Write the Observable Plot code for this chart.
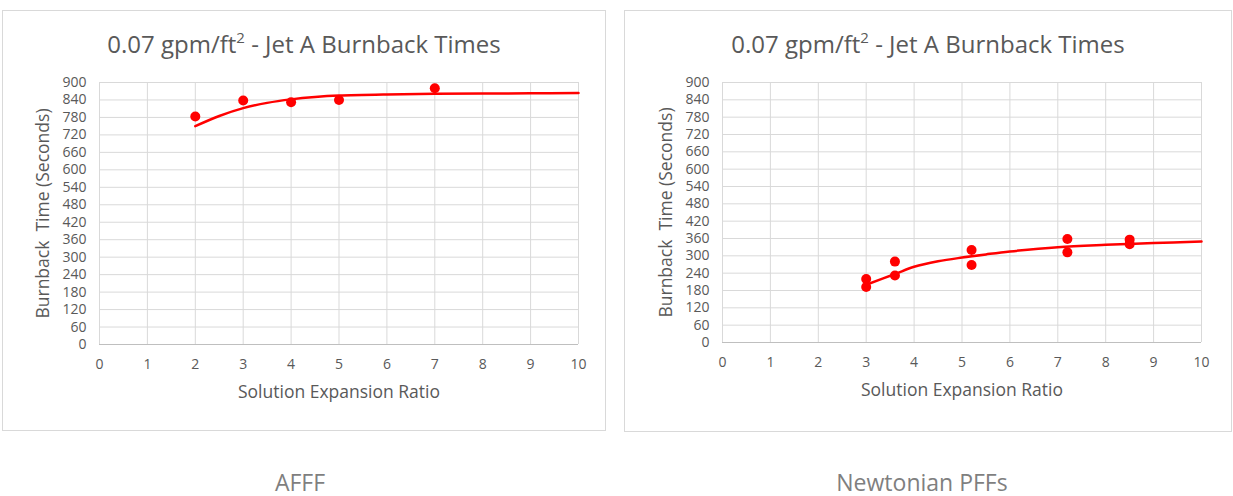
<!DOCTYPE html>
<html><head><meta charset="utf-8">
<script src="https://cdn.jsdelivr.net/npm/d3@7"></script>
<script src="https://cdn.jsdelivr.net/npm/@observablehq/plot@0.6"></script>
<style>
body{margin:0;background:#fff;width:1233px;height:496px;position:relative;overflow:hidden;font-family:"Open Sans",sans-serif;}
.panel{position:absolute;border:1px solid #d9d9d9;box-sizing:border-box;background:#fff;}
.title{position:absolute;left:0;right:0;top:16px;text-align:center;font-size:24px;color:#595959;white-space:nowrap;}
.title sup{font-size:15px;vertical-align:10px;line-height:0;}
.panel svg{position:absolute;left:0;top:0;}
.cap{position:absolute;top:466px;font-size:23px;color:#7f7f7f;transform:translateX(-50%);white-space:nowrap;}
</style></head>
<body>
<div id="p1" class="panel" style="left:2px;top:10px;width:604px;height:421px"><div class="title">0.07 gpm/ft<sup>2</sup> - Jet A Burnback Times</div></div>
<div id="p2" class="panel" style="left:624px;top:10px;width:608px;height:422px"><div class="title">0.07 gpm/ft<sup>2</sup> - Jet A Burnback Times</div></div>
<div class="cap" style="left:300px">AFFF</div>
<div class="cap" style="left:922px">Newtonian PFFs</div>
<script>
// AFFF data
const afffRatio = [2, 3, 4, 5, 7];
const afffTime = [783, 838, 832, 840, 880];
const afffTrendRatio = [2, 2.5, 3, 3.5, 4, 4.5, 5, 6, 7, 8, 9, 10];
const afffTrendTime = [750, 785, 812, 830, 842, 850, 855, 859, 861, 862, 863, 864];
// Newtonian PFF data
const pffRatio = [3, 3, 3.6, 3.6, 5.2, 5.2, 7.2, 7.2, 8.5, 8.5];
const pffTime = [220, 192, 280, 232, 320, 268, 358, 312, 356, 340];
const pffTrendRatio = [3, 3.6, 4, 4.5, 5, 5.5, 6, 7, 8, 9, 10];
const pffTrendTime = [200, 237, 262, 281, 294, 305, 315, 330, 338, 344, 350];
const xTicks = [0,1,2,3,4,5,6,7,8,9,10];
const yTicks = d3.range(0, 901, 60);

function chart(el, w, h, m, ratio, time, tr, tt) {
  const pts = ratio.map((x,i)=>({x, y: time[i]}));
  const trend = tr.map((x,i)=>({x, y: tt[i]}));
  const svg = Plot.plot({
    width: w, height: h,
    marginLeft: m.l, marginRight: m.r, marginTop: m.t, marginBottom: m.b,
    style: {fontFamily: '"Open Sans", sans-serif', fontSize: "14px", color: "#595959", background: "transparent", overflow: "visible"},
    x: {domain: [0, 10]},
    y: {domain: [0, 900]},
    marks: [
      Plot.gridX(xTicks, {stroke: "#d9d9d9", strokeOpacity: 1}),
      Plot.gridY(yTicks, {stroke: "#d9d9d9", strokeOpacity: 1}),
      Plot.ruleY([0], {stroke: "#bfbfbf"}),
      Plot.line(trend, {x: "x", y: "y", stroke: "#ff0000", strokeWidth: 2.5, curve: "catmull-rom"}),
      Plot.dot(pts, {x: "x", y: "y", r: 5, fill: "#ff0000", stroke: "none"}),
      Plot.axisX({ticks: xTicks, tickSize: 0, tickPadding: 15, label: "Solution Expansion Ratio", labelAnchor: "center", labelArrow: "none", labelOffset: 53, fontSize: 14}),
      Plot.axisY({ticks: yTicks, tickSize: 0, tickPadding: 13, label: "Burnback  Time (Seconds)", labelAnchor: "center", labelArrow: "none", labelOffset: 63, fontSize: 14})
    ]
  });
  svg.querySelectorAll('[aria-label="x-axis label"] text, [aria-label="y-axis label"] text').forEach(t=>{t.style.fontSize="17.5px";});
  el.appendChild(svg);
}
chart(document.getElementById("p1"), 602, 419, {l: 96, r: 27, t: 71, b: 86}, afffRatio, afffTime, afffTrendRatio, afffTrendTime);
chart(document.getElementById("p2"), 606, 420, {l: 97, r: 30, t: 71, b: 89}, pffRatio, pffTime, pffTrendRatio, pffTrendTime);
</script>
</body></html>
